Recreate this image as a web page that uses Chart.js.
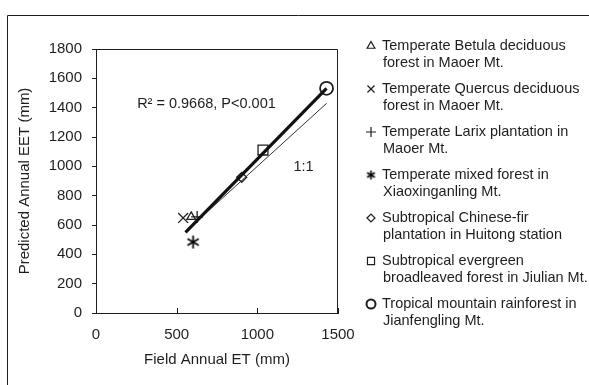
<!DOCTYPE html>
<html>
<head>
<meta charset="utf-8">
<script src="https://cdn.jsdelivr.net/npm/chart.js@4.4.0/dist/chart.umd.min.js"></script>
<style>
  html, body { margin: 0; padding: 0; background: #fff; }
  #wrap { width: 589px; height: 385px; }
</style>
</head>
<body>
<div id="wrap"><canvas id="etChart" width="589" height="385"></canvas></div>
<script>
// sites and values
const siteLines = [
  ['Temperate Betula deciduous', 'forest in Maoer Mt.'],
  ['Temperate Quercus deciduous', 'forest in Maoer Mt.'],
  ['Temperate Larix plantation in', 'Maoer Mt.'],
  ['Temperate mixed forest in', 'Xiaoxinganling Mt.'],
  ['Subtropical Chinese-fir', 'plantation in Huitong station'],
  ['Subtropical evergreen', 'broadleaved forest in Jiulian Mt.'],
  ['Tropical mountain rainforest in', 'Jianfengling Mt.'],
];
const fieldET = [590, 540, 627, 602, 903, 1035, 1429];
const predictedET = [655, 648, 655, 484, 925, 1111, 1532];

// regression and 1:1 line ends
const fitX = [555, 1429];
const fitY = [550, 1532];
const oneToOne = [560, 1430];

const xTicks = [0, 500, 1000, 1500];
const yTicks = [0, 200, 400, 600, 800, 1000, 1200, 1400, 1600, 1800];

const FONT = "'Liberation Sans', Arial, sans-serif";
const INK = '#1e1e1e';

// six-armed asterisk, as in the original figure
function asterisk(r, lw) {
  const c = document.createElement('canvas');
  const s = Math.ceil(r * 2 + 4);
  c.width = s; c.height = s;
  const g = c.getContext('2d');
  g.strokeStyle = '#000';
  g.lineWidth = lw;
  g.beginPath();
  [90, 30, -30].forEach(deg => {
    const a = deg * Math.PI / 180;
    g.moveTo(s / 2 - Math.cos(a) * r, s / 2 - Math.sin(a) * r);
    g.lineTo(s / 2 + Math.cos(a) * r, s / 2 + Math.sin(a) * r);
  });
  g.stroke();
  return c;
}

const markers = ['triangle', 'crossRot', 'cross', asterisk(6.5, 1.7), 'rectRot', 'rect', 'circle'];
const legendMarkers = ['triangle', 'crossRot', 'cross', asterisk(4.5, 1.6), 'rectRot', 'rect', 'circle'];
const markerSize = [5, 7, 6, 7, 5, 7, 6.5];
const legendSize = [4.5, 5, 5, 5, 4, 5, 4.5];

const siteSets = siteLines.map((lines, i) => ({
  label: lines.join(' '),
  data: [{ x: fieldET[i], y: predictedET[i] }],
  pointStyle: markers[i],
  pointRadius: markerSize[i],
  pointBorderColor: INK,
  pointBackgroundColor: 'rgba(0,0,0,0)',
  pointBorderWidth: i === 6 ? 1.8 : 1.3,
  showLine: false,
}));

const decorations = {
  id: 'decorations',
  afterDraw(chart) {
    const { ctx, chartArea: a, scales: { x, y } } = chart;
    ctx.save();
    ctx.strokeStyle = INK;
    ctx.lineWidth = 1;

    // outer frame (left and top only)
    ctx.beginPath();
    ctx.moveTo(7.5, 385);
    ctx.lineTo(7.5, 15.5);
    ctx.lineTo(589, 15.5);
    ctx.stroke();

    // top and right of plot box
    ctx.beginPath();
    ctx.moveTo(a.left, a.top + 0.5);
    ctx.lineTo(a.right - 0.5, a.top + 0.5);
    ctx.lineTo(a.right - 0.5, a.bottom);
    ctx.stroke();

    // inward x ticks
    ctx.beginPath();
    xTicks.forEach(v => {
      const px = Math.round(x.getPixelForValue(v)) + 0.5;
      ctx.moveTo(px, a.bottom);
      ctx.lineTo(px, a.bottom - 5);
    });
    ctx.stroke();

    // annotations
    ctx.fillStyle = INK;
    ctx.font = '14.5px ' + FONT;
    ctx.textBaseline = 'middle';
    ctx.textAlign = 'left';
    ctx.fillText('R² = 0.9668, P<0.001', x.getPixelForValue(255), y.getPixelForValue(1425));
    ctx.fillText('1:1', x.getPixelForValue(1224), y.getPixelForValue(995));

    // legend
    const lx = 371, tx = 382, top0 = 46, step = 43, lineH = 17;
    siteLines.forEach((lines, i) => {
      const cy = top0 + i * step;
      ctx.fillStyle = 'rgba(0,0,0,0)';
      ctx.strokeStyle = INK;
      ctx.lineWidth = i === 6 ? 2 : 1.2;
      Chart.helpers.drawPoint(ctx, {
        pointStyle: legendMarkers[i],
        radius: legendSize[i],
        borderWidth: ctx.lineWidth,
        rotation: 0,
      }, lx, cy);
      ctx.fillStyle = INK;
      ctx.fillText(lines[0], tx, cy);
      ctx.fillText(lines[1], tx + 1, cy + lineH);
    });
    ctx.restore();
  }
};

const ctx = document.getElementById('etChart').getContext('2d');
new Chart(ctx, {
  type: 'scatter',
  data: {
    datasets: [
      {
        label: 'Regression',
        data: fitX.map((v, i) => ({ x: v, y: fitY[i] })),
        showLine: true,
        borderColor: '#111',
        borderWidth: 3.2,
        pointRadius: 0,
      },
      {
        label: '1:1',
        data: oneToOne.map(v => ({ x: v, y: v })),
        showLine: true,
        borderColor: '#333',
        borderWidth: 1,
        pointRadius: 0,
      },
      ...siteSets,
    ],
  },
  options: {
    responsive: false,
    animation: false,
    layout: { padding: { left: 0, top: 49, right: 251, bottom: 0 } },
    plugins: {
      legend: { display: false },
      tooltip: { enabled: false },
    },
    scales: {
      x: {
        type: 'linear',
        min: 0,
        max: 1500,
        afterBuildTicks: s => { s.ticks = xTicks.map(v => ({ value: v })); },
        afterFit: s => { s.height = 72; },
        grid: { display: true, drawOnChartArea: false, drawTicks: false },
        border: { display: true, color: INK, width: 1 },
        ticks: { color: INK, padding: 13, font: { family: FONT, size: 15 }, callback: v => String(v) },
        title: {
          display: true,
          text: 'Field Annual ET (mm)',
          color: INK,
          font: { family: FONT, size: 15 },
          padding: { top: 0, bottom: 16 },
        },
      },
      y: {
        type: 'linear',
        min: 0,
        max: 1800,
        afterBuildTicks: s => { s.ticks = yTicks.map(v => ({ value: v })); },
        afterFit: s => { s.width = 96; },
        grid: { display: true, drawOnChartArea: false, drawTicks: true, tickLength: 4, color: INK },
        border: { display: true, color: INK, width: 1 },
        ticks: { color: INK, padding: 10, font: { family: FONT, size: 15 }, callback: v => String(v) },
        title: {
          display: true,
          text: 'Predicted Annual EET (mm)',
          color: INK,
          font: { family: FONT, size: 15 },
          padding: { top: 16, bottom: 0 },
        },
      },
    },
  },
  plugins: [decorations],
});
</script>
</body>
</html>
